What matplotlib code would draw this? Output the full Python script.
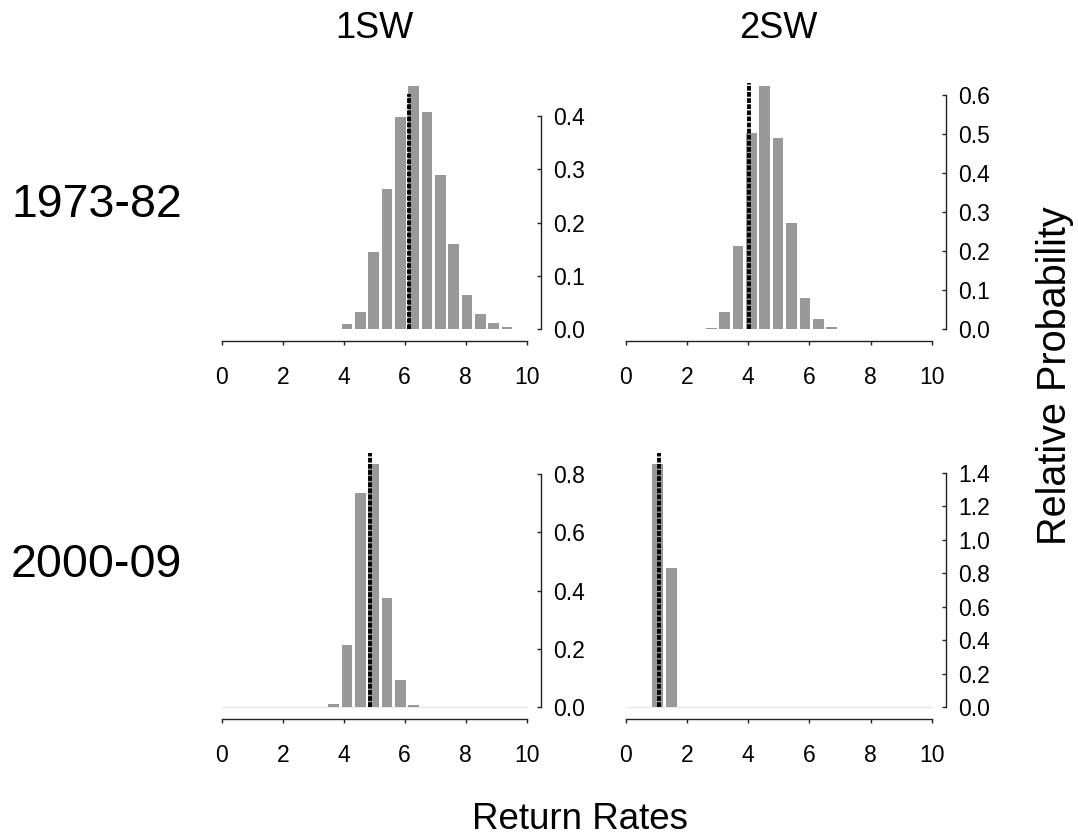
import numpy as np
import matplotlib
matplotlib.use("Agg")
import matplotlib.pyplot as plt
from matplotlib.ticker import FormatStrFormatter

plt.rcParams['font.family'] = ['Liberation Sans', 'DejaVu Sans']
plt.rcParams['lines.scale_dashes'] = False

# ---------------- data ----------------
col_titles = ["1SW", "2SW"]
row_titles = ["1973-82", "2000-09"]
x_label = "Return Rates"
y_label = "Relative Probability"

bin_width = 0.437
x_ticks = [0, 2, 4, 6, 8, 10]

# 1SW 1973-82
p1_first_bin = 9
p1_heights = [0.010, 0.032, 0.144, 0.263, 0.398, 0.456, 0.407, 0.289, 0.159, 0.064, 0.029, 0.011, 0.004]
p1_mean, p1_mean_top = 6.14, 0.441
p1_yticks = [0.0, 0.1, 0.2, 0.3, 0.4]

# 2SW 1973-82
p2_first_bin = 6
p2_heights = [0.003, 0.044, 0.213, 0.503, 0.624, 0.491, 0.272, 0.080, 0.027, 0.007]
p2_mean, p2_mean_top = 4.04, 0.632
p2_yticks = [0.0, 0.1, 0.2, 0.3, 0.4, 0.5, 0.6]

# 1SW 2000-09
p3_first_bin = 8
p3_heights = [0.011, 0.214, 0.736, 0.834, 0.373, 0.094, 0.009]
p3_mean, p3_mean_top = 4.87, 0.873
p3_yticks = [0.0, 0.2, 0.4, 0.6, 0.8]

# 2SW 2000-09
p4_first_bin = 2
p4_heights = [1.453, 0.834]
p4_mean, p4_mean_top = 1.10, 1.52
p4_yticks = [0.0, 0.2, 0.4, 0.6, 0.8, 1.0, 1.2, 1.4]

panels = [
    (p1_first_bin, p1_heights, p1_mean, p1_mean_top, p1_yticks, False),
    (p2_first_bin, p2_heights, p2_mean, p2_mean_top, p2_yticks, False),
    (p3_first_bin, p3_heights, p3_mean, p3_mean_top, p3_yticks, True),
    (p4_first_bin, p4_heights, p4_mean, p4_mean_top, p4_yticks, True),
]

# ---------------- layout (pixels) ----------------
W, H = 1078, 840
DPI = 100
fig = plt.figure(figsize=(W / DPI, H / DPI), dpi=DPI)

col_left = [221.7, 625.7]
col_width = [305.0, 306.0]
row_base = [329.3, 707.3]        # pixel y (from top) of value 0
max_bar_px = 243.3               # tallest bar height in px
ax_h_px = 262.0

bar_color = "#999999"
px2pt = 72.0 / DPI

for i, (first, heights, mval, mtop, yticks, faint) in enumerate(panels):
    r, c = divmod(i, 2)
    heights = np.asarray(heights)
    scale = max_bar_px / heights.max()          # px per unit
    ytop = ax_h_px / scale
    left = col_left[c] / W
    bottom = (H - row_base[r]) / H
    ax = fig.add_axes([left, bottom, col_width[c] / W, ax_h_px / H])
    ax.set_xlim(0, 10)
    ax.set_ylim(0, ytop)

    x = (first + np.arange(len(heights))) * bin_width
    if faint:
        ax.plot([0, 10], [0, 0], color="#e8e8e8", lw=1.0, zorder=1, clip_on=False)
    ax.bar(x, heights, width=bin_width * 0.8, align="edge", color=bar_color,
           edgecolor="none", zorder=2)
    ax.plot([mval, mval], [0, mtop], color="black", lw=2.8, zorder=3,
            dashes=(3.4, 1.0), clip_on=False, solid_capstyle="butt",
            dash_capstyle="butt")

    for s in ["top", "left"]:
        ax.spines[s].set_visible(False)
    ax.spines["bottom"].set_position(("outward", 11.4 * px2pt))
    ax.spines["right"].set_position(("outward", 14.0 * px2pt))
    ax.spines["bottom"].set_bounds(0, 10)
    ax.spines["right"].set_bounds(yticks[0], yticks[-1])
    for s in ["bottom", "right"]:
        ax.spines[s].set_linewidth(1.0)
        ax.spines[s].set_color("#222222")

    ax.set_xticks(x_ticks)
    ax.set_xticklabels([str(t) for t in x_ticks])
    ax.set_yticks(yticks)
    ax.yaxis.set_major_formatter(FormatStrFormatter("%.1f"))
    ax.yaxis.tick_right()
    ax.tick_params(axis="x", direction="out", length=4 * px2pt, width=1.0,
                   labelsize=16.5, pad=15, color="#222222")
    ax.tick_params(axis="y", direction="in", length=4 * px2pt, width=1.0,
                   labelsize=16.5, pad=9, color="#222222")
    for lab in ax.get_yticklabels():
        lab.set_horizontalalignment("left")
    ax.patch.set_alpha(0)

# titles
fig.text(374 / W, 1 - 38.3 / H, col_titles[0], ha="center", va="baseline", fontsize=26)
fig.text(778.7 / W, 1 - 38.3 / H, col_titles[1], ha="center", va="baseline", fontsize=26)
fig.text(96.7 / W, 1 - 217.0 / H, row_titles[0], ha="center", va="baseline", fontsize=33.5)
fig.text(96.7 / W, 1 - 577.0 / H, row_titles[1], ha="center", va="baseline", fontsize=33.5)
fig.text(580 / W, 1 - 829.0 / H, x_label, ha="center", va="baseline", fontsize=26.5)
fig.text(1055 / W, 1 - 376 / H, y_label, ha="center", va="center", rotation=90, fontsize=28.5)

fig.savefig("out.png", dpi=DPI)
